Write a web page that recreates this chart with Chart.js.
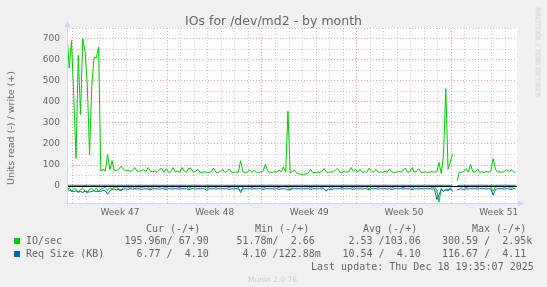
<!DOCTYPE html>
<html>
<head>
<meta charset="utf-8">
<script src="https://cdn.jsdelivr.net/npm/chart.js@4/dist/chart.umd.min.js"></script>
<style>
  html, body { margin: 0; padding: 0; background: #f0f0f0; }
  #wrap { position: relative; width: 547px; height: 287px; overflow: hidden; }
  #chart { position: absolute; left: 0; top: 0; }
  .txt { position: absolute; white-space: pre; color: #666; font-family: "DejaVu Sans", sans-serif; }
  .mono { font-family: "DejaVu Sans Mono", monospace; font-size: 10px; line-height: 12px; }
  .sq { position: absolute; width: 6px; height: 6px; }
</style>
</head>
<body>
<div id="wrap">
  <canvas id="chart" width="547" height="287"></canvas>

  <div class="txt" style="left:0; top:13px; width:547px; text-align:center; font-size:12.5px; line-height:15px;">IOs for /dev/md2 - by month</div>
  <div class="txt" style="left:-89.5px; top:121.5px; width:200px; text-align:center; font-size:9.5px; line-height:12px; transform:rotate(-90deg);">Units read (-) / write (+)</div>
  <div class="txt" style="left:437px; top:48px; width:200px; text-align:center; font-size:7px; line-height:9px; color:#ccc; transform:rotate(90deg);">RRDTOOL / TOBI OETIKER</div>

  <div class="txt mono" style="left:146px; top:223px;">Cur (-/+)</div>
  <div class="txt mono" style="left:255px; top:223px;">Min (-/+)</div>
  <div class="txt mono" style="left:363px; top:223px;">Avg (-/+)</div>
  <div class="txt mono" style="left:472px; top:223px;">Max (-/+)</div>

  <div class="sq" style="left:14px; top:238px; background:#00cc00;"></div>
  <div class="txt mono" style="left:26px; top:235px;">IO/sec</div>
  <div class="txt mono" style="left:124.5px; top:235px;">195.96m/ 67.90</div>
  <div class="txt mono" style="left:236.5px; top:235px;">51.78m/  2.66</div>
  <div class="txt mono" style="left:348.5px; top:235px;">2.53 /103.06</div>
  <div class="txt mono" style="left:442px; top:235px;">300.59 /  2.95k</div>

  <div class="sq" style="left:14px; top:251px; background:#0066b3;"></div>
  <div class="txt mono" style="left:26px; top:248px;">Req Size (KB)</div>
  <div class="txt mono" style="left:136.5px; top:248px;">6.77 /  4.10</div>
  <div class="txt mono" style="left:242.5px; top:248px;">4.10 /122.88m</div>
  <div class="txt mono" style="left:342.5px; top:248px;">10.54 /  4.10</div>
  <div class="txt mono" style="left:442px; top:248px;">116.67 /  4.11</div>

  <div class="txt mono" style="left:311px; top:260.5px;">Last update: Thu Dec 18 19:35:07 2025</div>
  <div class="txt" style="left:248px; top:275px; font-size:7.5px; line-height:9px; color:#ccc;">Munin 2.0.76</div>
</div>

<script>
// samples every 4 hours, day 0 = start of week 47
const startDay = -0.414;
const endDay = 32.85;
const stepDay = 1 / 6;
const weekLabels = ['Week 47', 'Week 48', 'Week 49', 'Week 50', 'Week 51'];

// IO/sec, write (+)
const writeIO = [
  715, 560, 690, 430, 132, 620, 340, 700, 640, 480,
  150, 480, 610, 608, 660, 72, 80, 72, 150, 78,
  120, 72, 75, 80, 95, 80, 72, 75, 70, 74,
  88, 72, 70, 74, 78, 68, 88, 70, 68, 72,
  66, 80, 84, 66, 82, 65, 68, 88, 68, 72,
  66, 88, 72, 66, 85, 84, 66, 70, 80, 66,
  65, 68, 66, 65, 70, 86, 66, 65, 70, 80,
  65, 70, 82, 66, 65, 68, 65, 120, 68, 65,
  66, 78, 65, 76, 66, 65, 68, 72, 104, 74,
  65, 66, 68, 65, 76, 68, 90, 66, 356, 62,
  70, 76, 60, 58, 54, 56, 58, 62, 80, 64,
  65, 66, 65, 70, 84, 66, 65, 68, 66, 75,
  84, 66, 65, 70, 66, 68, 88, 70, 80, 66,
  80, 65, 68, 66, 85, 70, 66, 80, 66, 68,
  65, 70, 66, 82, 68, 65, 66, 70, 68, 74,
  85, 66, 68, 88, 66, 70, 82, 65, 66, 68,
  65, 66, 70, 66, 68, 112, 60, 150, 462, 80,
  116, 151, null, 25, 66, 66, 70, 84, 66, 102,
  68, 66, 80, 66, 68, 65, 70, 66, 72, 131,
  80, 66, 68, 65, 70, 78, 66, 78, 68, 66
];

// IO/sec, read (-)
const readIO = [
  18, 8, 25, 12, 14, 30, 16, 10, 24, 32,
  14, 12, 22, 8, 26, 14, 10, 6, 20, 8,
  12, 5, 4, 18, 22, 6, 3, 4, 5, 3,
  12, 4, 3, 8, 3, 2, 4, 14, 3, 2,
  3, 6, 2, 3, 10, 2, 3, 4, 2, 3,
  8, 2, 3, 2, 12, 3, 2, 4, 2, 3,
  2, 3, 14, 2, 3, 2, 6, 2, 3, 2,
  3, 2, 8, 2, 3, 2, 4, 32, 3, 2,
  3, 2, 6, 2, 3, 2, 2, 10, 3, 2,
  3, 2, 4, 2, 8, 3, 2, 3, 4, 20,
  3, 2, 3, 2, 4, 2, 3, 2, 10, 3,
  2, 3, 2, 6, 2, 3, 2, 12, 3, 2,
  3, 2, 8, 2, 3, 2, 3, 10, 2, 3,
  2, 4, 2, 3, 14, 2, 3, 2, 6, 2,
  3, 2, 4, 2, 10, 3, 2, 3, 2, 8,
  2, 3, 2, 12, 3, 2, 4, 2, 3, 2,
  3, 2, 6, 3, 20, 76, 10, 26, 12, 18,
  8, 27, null, 3, 2, 4, 2, 8, 3, 2,
  3, 2, 6, 2, 3, 2, 4, 2, 3, 24,
  3, 2, 3, 2, 6, 2, 3, 10, 2, 3
];

// Req Size (KB), read (-)
const reqRead = [
  14, 20, 24, 26, 22, 28, 25, 30, 24, 27,
  28, 25, 22, 26, 24, 25, 20, 22, 39, 24,
  16, 14, 18, 13, 19, 14, 13, 16, 12, 14,
  13, 14, 12, 16, 13, 12, 14, 18, 13, 12,
  13, 14, 12, 13, 16, 12, 13, 14, 12, 13,
  14, 12, 13, 12, 18, 13, 12, 14, 12, 13,
  12, 13, 20, 12, 13, 12, 14, 12, 13, 12,
  13, 12, 16, 12, 13, 12, 14, 24, 13, 12,
  13, 12, 14, 12, 13, 12, 12, 16, 13, 12,
  13, 12, 14, 12, 16, 13, 12, 13, 19, 14,
  13, 12, 13, 12, 14, 12, 13, 12, 16, 13,
  12, 13, 12, 13, 12, 24, 12, 18, 13, 12,
  13, 12, 14, 12, 13, 12, 13, 16, 12, 13,
  12, 14, 12, 13, 18, 12, 13, 12, 14, 12,
  13, 12, 14, 12, 16, 13, 12, 13, 12, 14,
  12, 13, 12, 18, 13, 12, 14, 12, 13, 12,
  13, 12, 14, 13, 63, 40, 16, 24, 18, 22,
  14, 19, null, 19, 14, 13, 16, 13, 14, 12,
  13, 12, 14, 12, 13, 12, 14, 12, 13, 43,
  16, 12, 13, 12, 14, 12, 13, 16, 12, 13
];

// Req Size (KB), write (+)
const reqWrite = [
  4.1, 4.1, 4.1, 4.11, 4.1, 4.1, 4.1, 4.1, 4.1, 4.1,
  4.1, 4.1, 4.1, 4.1, 4.1, 4.11, 4.1, 4.1, 4.1, 4.1,
  4.1, 4.1, 4.1, 4.1, 4.1, 4.1, 4.1, 4.1, 4.1, 4.1,
  4.1, 4.1, 4.11, 4.1, 4.1, 4.1, 4.1, 4.1, 4.1, 4.1,
  4.1, 4.1, 4.1, 4.1, 4.1, 4.1, 4.1, 4.1, 4.1, 4.1,
  4.1, 4.1, 4.1, 4.1, 4.1, 4.1, 4.11, 4.1, 4.1, 4.1,
  4.1, 4.1, 4.1, 4.1, 4.1, 4.1, 4.1, 4.1, 4.1, 4.1,
  4.1, 4.1, 4.1, 4.1, 4.1, 4.1, 4.1, 4.1, 4.1, 4.1,
  4.1, 4.1, 4.1, 4.11, 4.1, 4.1, 4.1, 4.1, 4.1, 4.1,
  4.1, 4.1, 4.1, 4.1, 4.1, 4.1, 4.1, 4.1, 4.1, 4.1,
  4.1, 4.1, 4.1, 4.1, 4.1, 4.1, 4.1, 4.1, 4.1, 4.1,
  4.1, 4.1, 4.1, 4.1, 4.1, 4.1, 4.1, 4.11, 4.1, 4.1,
  4.1, 4.1, 4.1, 4.1, 4.1, 4.1, 4.1, 4.1, 4.1, 4.1,
  4.1, 4.1, 4.1, 4.1, 4.1, 4.1, 4.1, 4.1, 4.1, 4.1,
  4.1, 4.1, 4.1, 4.1, 4.1, 4.1, 4.1, 4.1, 4.1, 4.1,
  4.1, 4.1, 4.11, 4.1, 4.1, 4.1, 4.1, 4.1, 4.1, 4.1,
  4.1, 4.1, 4.1, 4.1, 4.1, 4.1, 4.1, 4.1, 4.1, 4.1,
  4.1, 4.1, null, 0.12, 4.1, 4.1, 4.1, 4.1, 4.1, 4.1,
  4.1, 4.1, 4.1, 4.1, 4.1, 4.1, 4.1, 4.1, 4.1, 4.1,
  4.1, 4.1, 4.1, 4.1, 4.1, 4.1, 4.1, 4.1, 4.1, 4.1
];

const days = writeIO.map((_, i) => startDay + i * stepDay);
// munin draws "read" below zero
const points = (vals, sign) => vals.map((v, i) => ({ x: days[i], y: v === null ? null : sign * v }));

const GREEN = '#00cc00';
const BLUE = '#0066b3';
const MAJOR = 'rgba(240, 60, 60, 0.5)';
const MINOR = 'rgba(140, 140, 140, 0.45)';
const tickFont = { family: 'DejaVu Sans', size: 9 };

const muninFrame = {
  id: 'muninFrame',
  beforeDraw(chart) {
    const { ctx, chartArea: a } = chart;
    ctx.save();
    ctx.fillStyle = '#ffffff';
    ctx.fillRect(a.left, a.top, a.right - a.left, a.bottom - a.top);
    ctx.restore();
  },
  afterDatasetsDraw(chart) {
    const { ctx, chartArea: a, scales } = chart;
    const y0 = Math.round(scales.y.getPixelForValue(0)) + 0.5;
    const l = Math.round(a.left) + 0.5;
    const b = Math.round(a.bottom) + 0.5;
    ctx.save();
    ctx.lineWidth = 1;
    ctx.strokeStyle = '#000000';
    ctx.beginPath();
    ctx.moveTo(a.left, y0);
    ctx.lineTo(a.right, y0);
    ctx.stroke();

    ctx.strokeStyle = '#cfd6f8';
    ctx.fillStyle = '#cfd6f8';
    ctx.beginPath();
    ctx.moveTo(l, b + 3);
    ctx.lineTo(l, a.top - 2);
    ctx.moveTo(l - 3, b);
    ctx.lineTo(a.right + 2, b);
    ctx.stroke();
    ctx.beginPath();
    ctx.moveTo(l - 3, a.top - 1);
    ctx.lineTo(l + 3, a.top - 1);
    ctx.lineTo(l, a.top - 7);
    ctx.closePath();
    ctx.fill();
    ctx.beginPath();
    ctx.moveTo(a.right + 1, b - 3);
    ctx.lineTo(a.right + 1, b + 3);
    ctx.lineTo(a.right + 7, b);
    ctx.closePath();
    ctx.fill();
    ctx.restore();
  }
};

const lineStyle = { borderWidth: 1, pointRadius: 0, tension: 0, spanGaps: false, fill: false };

new Chart(document.getElementById('chart'), {
  type: 'line',
  data: {
    datasets: [
      { ...lineStyle, label: 'IO/sec read', data: points(readIO, -1), borderColor: GREEN, order: 1 },
      { ...lineStyle, label: 'IO/sec write', data: points(writeIO, 1), borderColor: GREEN, order: 1 },
      { ...lineStyle, label: 'Req Size read', data: points(reqRead, -1), borderColor: BLUE, order: 0 },
      { ...lineStyle, label: 'Req Size write', data: points(reqWrite, 1), borderColor: BLUE, order: 0 }
    ]
  },
  options: {
    responsive: false,
    animation: false,
    parsing: false,
    layout: { padding: { left: 0, top: 28, right: 30, bottom: 62 } },
    plugins: { legend: { display: false }, title: { display: false }, tooltip: { enabled: false } },
    scales: {
      // day grid (no labels)
      x: {
        type: 'linear',
        position: 'bottom',
        min: startDay,
        max: endDay,
        afterBuildTicks: s => {
          s.ticks = [];
          for (let d = 0; d <= endDay; d++) s.ticks.push({ value: d });
        },
        afterFit: s => { s.height = 0; },
        ticks: { display: false, autoSkip: false },
        grid: {
          drawTicks: false,
          lineWidth: 1,
          color: c => (c.tick.value % 7 === 0 ? MAJOR : MINOR)
        },
        border: { display: false, dash: [1, 2] }
      },
      // week labels, centred in each week
      weeks: {
        type: 'linear',
        position: 'bottom',
        min: startDay,
        max: endDay,
        afterBuildTicks: s => {
          s.ticks = weekLabels.map((_, i) => ({ value: 3.5 + 7 * i }));
        },
        afterFit: s => { s.height = 22; },
        ticks: {
          autoSkip: false,
          maxRotation: 0,
          padding: 4,
          color: '#666',
          font: tickFont,
          callback: (v, i) => weekLabels[i]
        },
        grid: { display: false, drawTicks: false },
        border: { display: false }
      },
      y: {
        min: -80,
        max: 750,
        afterBuildTicks: s => {
          s.ticks = [];
          for (let v = -50; v <= 750; v += 50) s.ticks.push({ value: v });
        },
        afterFit: s => { s.width = 67; },
        ticks: {
          autoSkip: false,
          padding: 7,
          color: '#666',
          font: tickFont,
          callback: v => (v % 100 === 0 ? String(v) : '')
        },
        grid: {
          drawTicks: false,
          lineWidth: 1,
          color: c => (c.tick.value % 100 === 0 ? MAJOR : MINOR)
        },
        border: { display: false, dash: [1, 2] }
      }
    }
  },
  plugins: [muninFrame]
});
</script>
</body>
</html>
